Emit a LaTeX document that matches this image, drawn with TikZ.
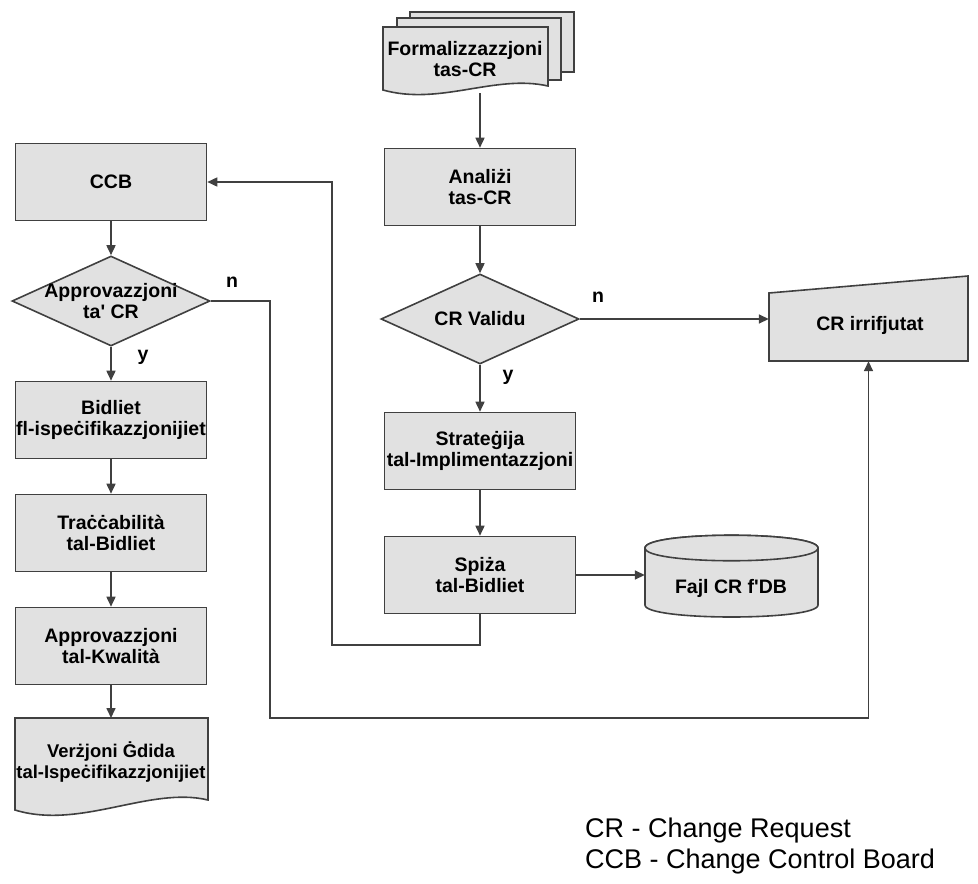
\documentclass[tikz,border=0pt]{standalone}
\usepackage{fontspec}
\setmainfont{Liberation Sans}[Ligatures=TeXOff]
\usetikzlibrary{arrows.meta,shapes.geometric}
\definecolor{lc}{RGB}{64,64,64}
\definecolor{fc}{RGB}{225,225,225}
\begin{document}
\begin{tikzpicture}[x=1pt,y=-1pt,
  line/.style={draw=lc, line width=1.6pt},
  arr/.style={line, -{Triangle[length=10pt,width=9pt]}},
  shp/.style={draw=lc, fill=fc, line width=1.6pt},
  lbl/.style={font=\bfseries\fontsize{19.5}{21.5}\selectfont, align=center, text=black, inner sep=0pt},
  procbox/.style={shp, lbl, minimum width=191pt, minimum height=77pt},
  decision/.style={shp, diamond, inner sep=0pt, minimum width=198pt, minimum height=90pt},
  yn/.style={font=\bfseries\fontsize{19.5}{21}\selectfont, anchor=base, inner sep=0pt},
  legend/.style={font=\fontsize{27}{30}\selectfont, anchor=base west, inner sep=0pt}
  ]
\useasboundingbox (0,0) rectangle (978,884);

% multi-document
\path[shp] (410,12) rectangle (574,72);
\path[shp] (397,18) rectangle (561,80);
\path[shp] (383,27) -- (548,27) -- (548,86) .. controls (495,74) and (440,106) .. (383,90) -- cycle;
\node[lbl] (form) at (465,59) {Formalizzazzjoni\\tas-CR};
\coordinate (formb) at (480,93);

% right column
\node[procbox] (anal) at (480,187) {Anali\.zi\\tas-CR};
\node[decision] (valid) at (480,319) {};
\node[lbl] (validt) at (valid) {CR Validu};
\node[procbox] (strat) at (480,451) {Strate\.gija\\tal-Implimentazzjoni};
\node[procbox] (spiza) at (480,575) {Spi\.za\\tal-Bidliet};

% cylinder
\path[shp] (645,548) -- (645,605) .. controls (645,621) and (818,621) .. (818,605) -- (818,548) .. controls (818,531) and (645,531) .. (645,548) -- cycle;
\path[shp] (645,548) .. controls (645,531) and (818,531) .. (818,548) .. controls (818,565) and (645,565) .. (645,548) -- cycle;
\node[lbl] (fajl) at (731,588) {Fajl CR f'DB};
\node[minimum width=173pt, minimum height=82pt, inner sep=0pt] (db) at (731.5,576) {};

% trapezoid
\path[shp] (769,293) -- (968,276) -- (968,361) -- (769,361) -- cycle;
\node[lbl] (irrt) at (870,325) {CR irrifjutat};
\node[minimum width=199pt, minimum height=68pt, inner sep=0pt] (irr) at (868.5,327) {};

% left column
\node[procbox] (ccb) at (111,182) {CCB};
\node[decision] (appr) at (111,301) {};
\node[lbl] (apprt) at (appr) {Approvazzjoni\\ta' CR};
\node[procbox] (bid) at (111,420) {Bidliet\\fl-ispe\.cifikazzjonijiet};
\node[procbox] (trac) at (111,533) {Tra\.c\.cabilit\`a\\tal-Bidliet};
\node[procbox] (kwal) at (111,646) {Approvazzjoni\\tal-Kwalit\`a};

% final document
\path[shp] (15,718) -- (208,718) -- (208,800) .. controls (150,786) and (80,830) .. (15,810) -- cycle;
\node[lbl, font=\bfseries\fontsize{18.4}{21.5}\selectfont] (verz) at (111,762) {Ver\.zjoni \.Gdida\\tal-Ispe\.cifikazzjonijiet};
\coordinate (verzt) at (111,718);

% connectors
\draw[arr] (formb) -- (anal.north);
\draw[arr] (anal.south) -- (valid.north);
\draw[arr] (valid.south) -- (strat.north);
\draw[arr] (strat.south) -- (spiza.north);
\draw[arr] (spiza.east) -- (spiza.east -| db.west);
\draw[arr] (valid.east) -- (valid.east -| irr.west);
\coordinate (loop1) at (480,645);
\coordinate (loop2) at (332,645);
\coordinate (loop3) at (332,182);
\draw[arr] (spiza.south) -- (loop1) -- (loop2) -- (loop3) -- (ccb.east);
\draw[arr] (ccb.south) -- (appr.north);
\draw[arr] (appr.south) -- (bid.north);
\draw[arr] (bid.south) -- (trac.north);
\draw[arr] (trac.south) -- (kwal.north);
\draw[arr] (kwal.south) -- (verzt);
\coordinate (no1) at (270,301);
\coordinate (no2) at (270,718);
\coordinate (no3) at (868.5,718);
\draw[arr] (appr.east) -- (no1) -- (no2) -- (no3) -- (irr.south);

% labels
\node[yn] (n1) at (232,287) {n};
\node[yn] (y1) at (143,360) {y};
\node[yn] (n2) at (598,302) {n};
\node[yn] (y2) at (508,380) {y};

% legend
\node[legend] (leg1) at (585,837) {CR - Change Request};
\node[legend] (leg2) at (585,868) {CCB - Change Control Board};
\end{tikzpicture}
\end{document}
